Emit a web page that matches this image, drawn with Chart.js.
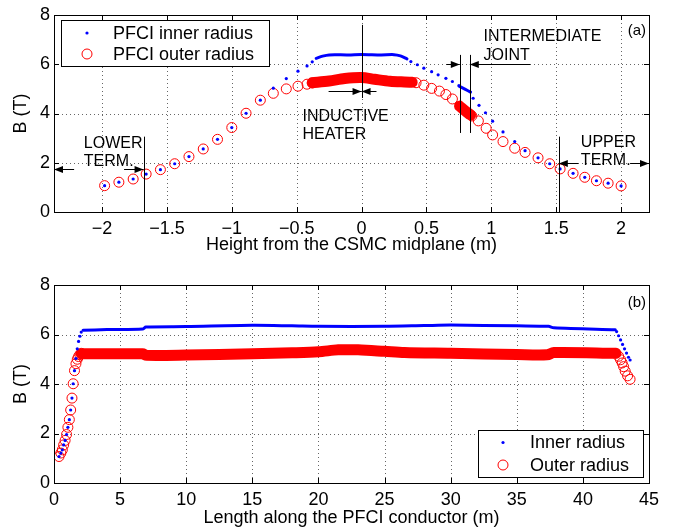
<!DOCTYPE html>
<html>
<head>
<meta charset="utf-8">
<script src="https://cdn.jsdelivr.net/npm/chart.js@4.4.1/dist/chart.umd.min.js"></script>
<style>
  html, body { margin: 0; padding: 0; background: #fff; }
  canvas { position: absolute; left: 0; }
  #chartA { top: 0; }
  #chartB { top: 258px; }
</style>
</head>
<body>
<canvas id="chartA" width="683" height="258"></canvas>
<canvas id="chartB" width="683" height="271"></canvas>
<script>
// ---- (a) field vs. height from the CSMC midplane ----
const rampHeight = [-1.98, -1.87, -1.76, -1.66, -1.55, -1.44, -1.33, -1.22, -1.11, -1.00, -0.89, -0.78, -0.68, -0.58, -0.49, -0.42, -0.38];
const rampInner  = [1.07, 1.21, 1.34, 1.54, 1.72, 1.96, 2.25, 2.56, 2.95, 3.43, 4.01, 4.54, 5.03, 5.42, 5.72, 5.93, 6.10];
const rampOuter  = [1.07, 1.21, 1.34, 1.54, 1.72, 1.96, 2.25, 2.56, 2.95, 3.43, 4.01, 4.54, 4.82, 5.00, 5.11, 5.19, 5.24];

const coreHeightInner = [-0.35, -0.30, -0.25, -0.10, 0.00, 0.15, 0.25, 0.30, 0.35];
const coreInner       = [6.24, 6.33, 6.38, 6.38, 6.40, 6.38, 6.39, 6.34, 6.22];
const coreHeightOuter = [-0.38, -0.25, -0.13, 0.00, 0.10, 0.22, 0.33, 0.39];
const coreOuter       = [5.25, 5.32, 5.42, 5.46, 5.39, 5.31, 5.28, 5.27];

const jointHeight = [0.755, 0.80, 0.84];
const jointInner  = [5.10, 4.98, 4.87];
const jointOuter  = [4.30, 4.10, 3.94];

const fallHeightInner = [0.38, 0.43, 0.48, 0.54, 0.59, 0.65, 0.70, 0.75, 0.86, 0.905, 0.955, 1.01, 1.09, 1.18, 1.26, 1.36, 1.45, 1.53, 1.63, 1.72, 1.81, 1.90, 2.00];
const fallInner       = [6.11, 5.98, 5.84, 5.70, 5.57, 5.43, 5.30, 5.13, 4.62, 4.33, 4.03, 3.69, 3.25, 2.86, 2.49, 2.20, 1.96, 1.75, 1.57, 1.41, 1.27, 1.17, 1.06];
const fallHeightOuter = [0.42, 0.48, 0.54, 0.60, 0.65, 0.70, 0.85, 0.90, 0.96, 1.01, 1.09, 1.18, 1.26, 1.36, 1.45, 1.53, 1.63, 1.72, 1.81, 1.90, 2.00];
const fallOuter       = [5.25, 5.15, 5.02, 4.91, 4.77, 4.59, 3.90, 3.70, 3.40, 3.13, 2.86, 2.59, 2.42, 2.20, 1.96, 1.75, 1.57, 1.41, 1.27, 1.17, 1.06];

// ---- (b) field vs. length along the conductor ----
const rampLength = [0.38, 0.52, 0.63, 0.73, 0.84, 0.95, 1.05, 1.16, 1.26, 1.36, 1.45, 1.55, 1.66, 1.76, 1.86, 1.96, 2.06];

const plateauLengthInner = [2.20, 4.0, 6.7, 6.95, 10, 15, 18, 20, 25, 28, 30, 35, 37.4, 37.8, 42.45];
const plateauInner       = [6.17, 6.20, 6.22, 6.30, 6.32, 6.37, 6.35, 6.33, 6.33, 6.36, 6.38, 6.35, 6.33, 6.27, 6.19];
const plateauLengthOuter = [2.06, 6.7, 7.0, 10, 15, 18, 20, 21.5, 23, 25, 26.5, 30, 35, 37.3, 37.8, 42.5];
const plateauOuter       = [5.22, 5.22, 5.16, 5.17, 5.22, 5.26, 5.30, 5.38, 5.38, 5.32, 5.27, 5.24, 5.19, 5.18, 5.27, 5.24];

const endLengthInner = [42.55, 42.70, 42.85, 43.00, 43.15, 43.30, 43.45, 43.57];
const endInner       = [6.12, 5.95, 5.78, 5.60, 5.42, 5.25, 5.08, 4.97];
const endLengthOuter = [42.70, 42.85, 42.97, 43.08, 43.20, 43.38, 43.57];
const endOuter       = [5.12, 4.98, 4.85, 4.70, 4.52, 4.33, 4.19];

// ---- ticks ----
const ticksHeight = [-2, -1.5, -1, -0.5, 0, 0.5, 1, 1.5, 2];
const ticksLength = [0, 5, 10, 15, 20, 25, 30, 35, 40, 45];
const ticksB = [0, 2, 4, 6, 8];

const FONT = "'Liberation Sans', Arial, Helvetica, sans-serif";
const BLUE = 'rgb(0,0,255)';
const RED = 'rgb(255,0,0)';

const pts = (xs, ys) => xs.map((x, i) => ({ x, y: ys[i] }));
const fixTicks = values => scale => { scale.ticks = values.map(v => ({ value: v })); };

const dots = (label, xs, ys, inLegend) => ({
    label, data: pts(xs, ys), inLegend, kind: 'dot',
    pointStyle: 'circle', pointRadius: 1.6, pointBorderWidth: 0,
    pointBackgroundColor: BLUE, showLine: false
});
const rings = (label, xs, ys, inLegend) => ({
    label, data: pts(xs, ys), inLegend, kind: 'ring',
    pointStyle: 'circle', pointRadius: 5, pointBorderWidth: 1,
    pointBorderColor: RED, pointBackgroundColor: 'rgba(0,0,0,0)', showLine: false
});
const band = (xs, ys, color, width) => ({
    label: '_band', data: pts(xs, ys), showLine: true, pointRadius: 0,
    borderColor: color, borderWidth: width, borderCapStyle: 'round', borderJoinStyle: 'round', tension: 0.3
});

function drawArrow(ctx, x0, y0, x1, y1) {
    ctx.beginPath(); ctx.moveTo(x0, y0); ctx.lineTo(x1, y1); ctx.stroke();
    const dir = Math.sign(x1 - x0);
    ctx.beginPath();
    ctx.moveTo(x1, y1);
    ctx.lineTo(x1 - dir * 9, y1 - 3.5);
    ctx.lineTo(x1 - dir * 9, y1 + 3.5);
    ctx.closePath(); ctx.fill();
}

function drawMarker(ctx, kind, x, y) {
    ctx.beginPath();
    if (kind === 'dot') {
        ctx.fillStyle = BLUE; ctx.arc(x, y, 1.6, 0, Math.PI * 2); ctx.fill();
    } else {
        ctx.strokeStyle = RED; ctx.lineWidth = 1; ctx.arc(x, y, 5, 0, Math.PI * 2); ctx.stroke();
    }
}

const matlabFrame = {
    id: 'matlabFrame',
    beforeDatasetsDraw(chart) {
        const { ctx, chartArea: a, scales: { x, y } } = chart;
        ctx.save();
        ctx.strokeStyle = 'rgba(0,0,0,0.6)';
        ctx.lineWidth = 1;
        ctx.setLineDash([1, 3]);
        x.ticks.forEach(t => {
            const px = Math.round(x.getPixelForValue(t.value)) + 0.5;
            if (px <= a.left + 2 || px >= a.right - 2) return;
            ctx.beginPath(); ctx.moveTo(px, a.top); ctx.lineTo(px, a.bottom); ctx.stroke();
        });
        y.ticks.forEach(t => {
            const py = Math.round(y.getPixelForValue(t.value)) + 0.5;
            if (py <= a.top + 2 || py >= a.bottom - 2) return;
            ctx.beginPath(); ctx.moveTo(a.left, py); ctx.lineTo(a.right, py); ctx.stroke();
        });
        ctx.restore();
    },
    afterDatasetsDraw(chart, args, opts) {
        const { ctx, chartArea: a, scales: { x, y } } = chart;
        ctx.save();
        ctx.strokeStyle = '#000';
        ctx.fillStyle = '#000';
        ctx.lineWidth = 1;
        // axes box with inward ticks
        ctx.strokeRect(Math.round(a.left) + 0.5, Math.round(a.top) + 0.5, Math.round(a.right - a.left), Math.round(a.bottom - a.top));
        ctx.beginPath();
        x.ticks.forEach(t => {
            const px = Math.round(x.getPixelForValue(t.value)) + 0.5;
            ctx.moveTo(px, a.bottom); ctx.lineTo(px, a.bottom - 5);
            ctx.moveTo(px, a.top); ctx.lineTo(px, a.top + 5);
        });
        y.ticks.forEach(t => {
            const py = Math.round(y.getPixelForValue(t.value)) + 0.5;
            ctx.moveTo(a.left, py); ctx.lineTo(a.left + 5, py);
            ctx.moveTo(a.right, py); ctx.lineTo(a.right - 5, py);
        });
        ctx.stroke();

        // annotation lines, arrows and texts (data coordinates)
        (opts.lines || []).forEach(l => {
            const px = Math.round(x.getPixelForValue(l.x)) + 0.5;
            ctx.beginPath(); ctx.moveTo(px, y.getPixelForValue(l.y0)); ctx.lineTo(px, y.getPixelForValue(l.y1)); ctx.stroke();
        });
        (opts.arrows || []).forEach(r => {
            const py = Math.round(y.getPixelForValue(r.y)) + 0.5;
            drawArrow(ctx, x.getPixelForValue(r.from), py, x.getPixelForValue(r.to), py);
        });
        ctx.font = '16px ' + FONT;
        ctx.textAlign = 'left';
        ctx.textBaseline = 'alphabetic';
        (opts.notes || []).forEach(n => {
            ctx.fillText(n.text, x.getPixelForValue(n.x), y.getPixelForValue(n.y));
        });

        // panel tag
        if (opts.tag) {
            ctx.font = '15px ' + FONT;
            ctx.textAlign = 'right';
            ctx.fillText(opts.tag, a.right - 3, a.top + opts.tagDy);
        }

        // legend box
        if (opts.legend) {
            const L = opts.legend;
            ctx.fillStyle = '#fff';
            ctx.fillRect(L.x, L.y, L.w, L.h);
            ctx.strokeStyle = '#000';
            ctx.strokeRect(L.x + 0.5, L.y + 0.5, L.w, L.h);
            ctx.font = '18px ' + FONT;
            ctx.textAlign = 'left';
            ctx.textBaseline = 'middle';
            chart.data.datasets.filter(d => d.inLegend).forEach((d, i) => {
                const cy = L.y + L.row0 + i * L.rowGap;
                drawMarker(ctx, d.kind, L.markerX, cy);
                ctx.fillStyle = '#000';
                ctx.fillText(d.label, L.textX, cy + 1);
            });
        }
        ctx.restore();
    }
};

const tickFont = { family: FONT, size: 18 };
const titleFont = { family: FONT, size: 18 };
const minus = v => String(v).replace('-', '\u2212');

function makeOptions(xMin, xMax, xTicks, xTitle, xTitlePad, topPad, frame) {
    return {
        responsive: false,
        animation: false,
        events: [],
        layout: { padding: { top: topPad, right: 34, bottom: 0, left: 0 } },
        plugins: { legend: { display: false }, tooltip: { enabled: false }, matlabFrame: frame },
        scales: {
            x: {
                type: 'linear', min: xMin, max: xMax,
                afterBuildTicks: fixTicks(xTicks),
                afterFit: s => { s.height = 46; },
                grid: { display: false, drawTicks: false },
                border: { display: false },
                ticks: { color: '#000', font: tickFont, padding: 6, maxRotation: 0, callback: minus },
                title: { display: true, text: xTitle, color: '#000', font: titleFont, padding: { top: 0, bottom: xTitlePad } }
            },
            y: {
                type: 'linear', min: 0, max: 8,
                afterBuildTicks: fixTicks(ticksB),
                afterFit: s => { s.width = 54; },
                grid: { display: false, drawTicks: false },
                border: { display: false },
                ticks: { color: '#000', font: tickFont, padding: 4 },
                title: { display: true, text: 'B (T)', color: '#000', font: titleFont, padding: { top: 10, bottom: 0 } }
            }
        }
    };
}

new Chart(document.getElementById('chartA'), {
    type: 'scatter',
    plugins: [matlabFrame],
    data: {
        datasets: [
            dots('PFCI inner radius', rampHeight, rampInner, true),
            rings('PFCI outer radius', rampHeight, rampOuter, true),
            dots('_inner fall', fallHeightInner, fallInner, false),
            rings('_outer fall', fallHeightOuter, fallOuter, false),
            band(coreHeightInner, coreInner, BLUE, 3),
            band(jointHeight, jointInner, BLUE, 3),
            band(coreHeightOuter, coreOuter, RED, 11),
            band(jointHeight, jointOuter, RED, 11)
        ]
    },
    options: makeOptions(-2.37, 2.215, ticksHeight, 'Height from the CSMC midplane (m)', 2, 15, {
        tag: '(a)', tagDy: 20,
        lines: [
            { x: -1.68, y0: 0, y1: 3.06 },
            { x: 0, y0: 4.63, y1: 7.6 },
            { x: 0.757, y0: 3.21, y1: 6.38 },
            { x: 0.834, y0: 3.21, y1: 6.38 },
            { x: 1.52, y0: 0, y1: 3.06 }
        ],
        arrows: [
            { y: 1.75, from: -2.215, to: -2.37 },
            { y: 1.75, from: -1.83, to: -1.68 },
            { y: 4.93, from: -0.254, to: 0 },
            { y: 4.93, from: 0.115, to: 0 },
            { y: 6.02, from: 0.654, to: 0.757 },
            { y: 6.02, from: 1.30, to: 0.834 },
            { y: 1.98, from: 1.67, to: 1.52 },
            { y: 1.98, from: 2.07, to: 2.215 }
        ],
        notes: [
            { text: 'LOWER', x: -2.14, y: 2.60 },
            { text: 'TERM.', x: -2.14, y: 1.87 },
            { text: 'INDUCTIVE', x: -0.455, y: 3.71 },
            { text: 'HEATER', x: -0.455, y: 2.95 },
            { text: 'INTERMEDIATE', x: 0.94, y: 6.96 },
            { text: 'JOINT', x: 0.94, y: 6.18 },
            { text: 'UPPER', x: 1.69, y: 2.65 },
            { text: 'TERM.', x: 1.69, y: 1.91 }
        ],
        legend: { x: 61, y: 20, w: 208, h: 46, row0: 13, rowGap: 21, markerX: 87, textX: 113 }
    })
});

new Chart(document.getElementById('chartB'), {
    type: 'scatter',
    plugins: [matlabFrame],
    data: {
        datasets: [
            dots('Inner radius', rampLength, rampInner, true),
            rings('Outer radius', rampLength, rampOuter, true),
            dots('_inner end', endLengthInner, endInner, false),
            rings('_outer end', endLengthOuter, endOuter, false),
            band(plateauLengthInner, plateauInner, BLUE, 3),
            band(plateauLengthOuter, plateauOuter, RED, 11)
        ]
    },
    options: makeOptions(0, 45, ticksLength, 'Length along the PFCI conductor (m)', 0, 27, {
        tag: '(b)', tagDy: 22,
        legend: { x: 478, y: 172, w: 165, h: 47, row0: 12.5, rowGap: 22.5, markerX: 503, textX: 530 }
    })
});
</script>
</body>
</html>
